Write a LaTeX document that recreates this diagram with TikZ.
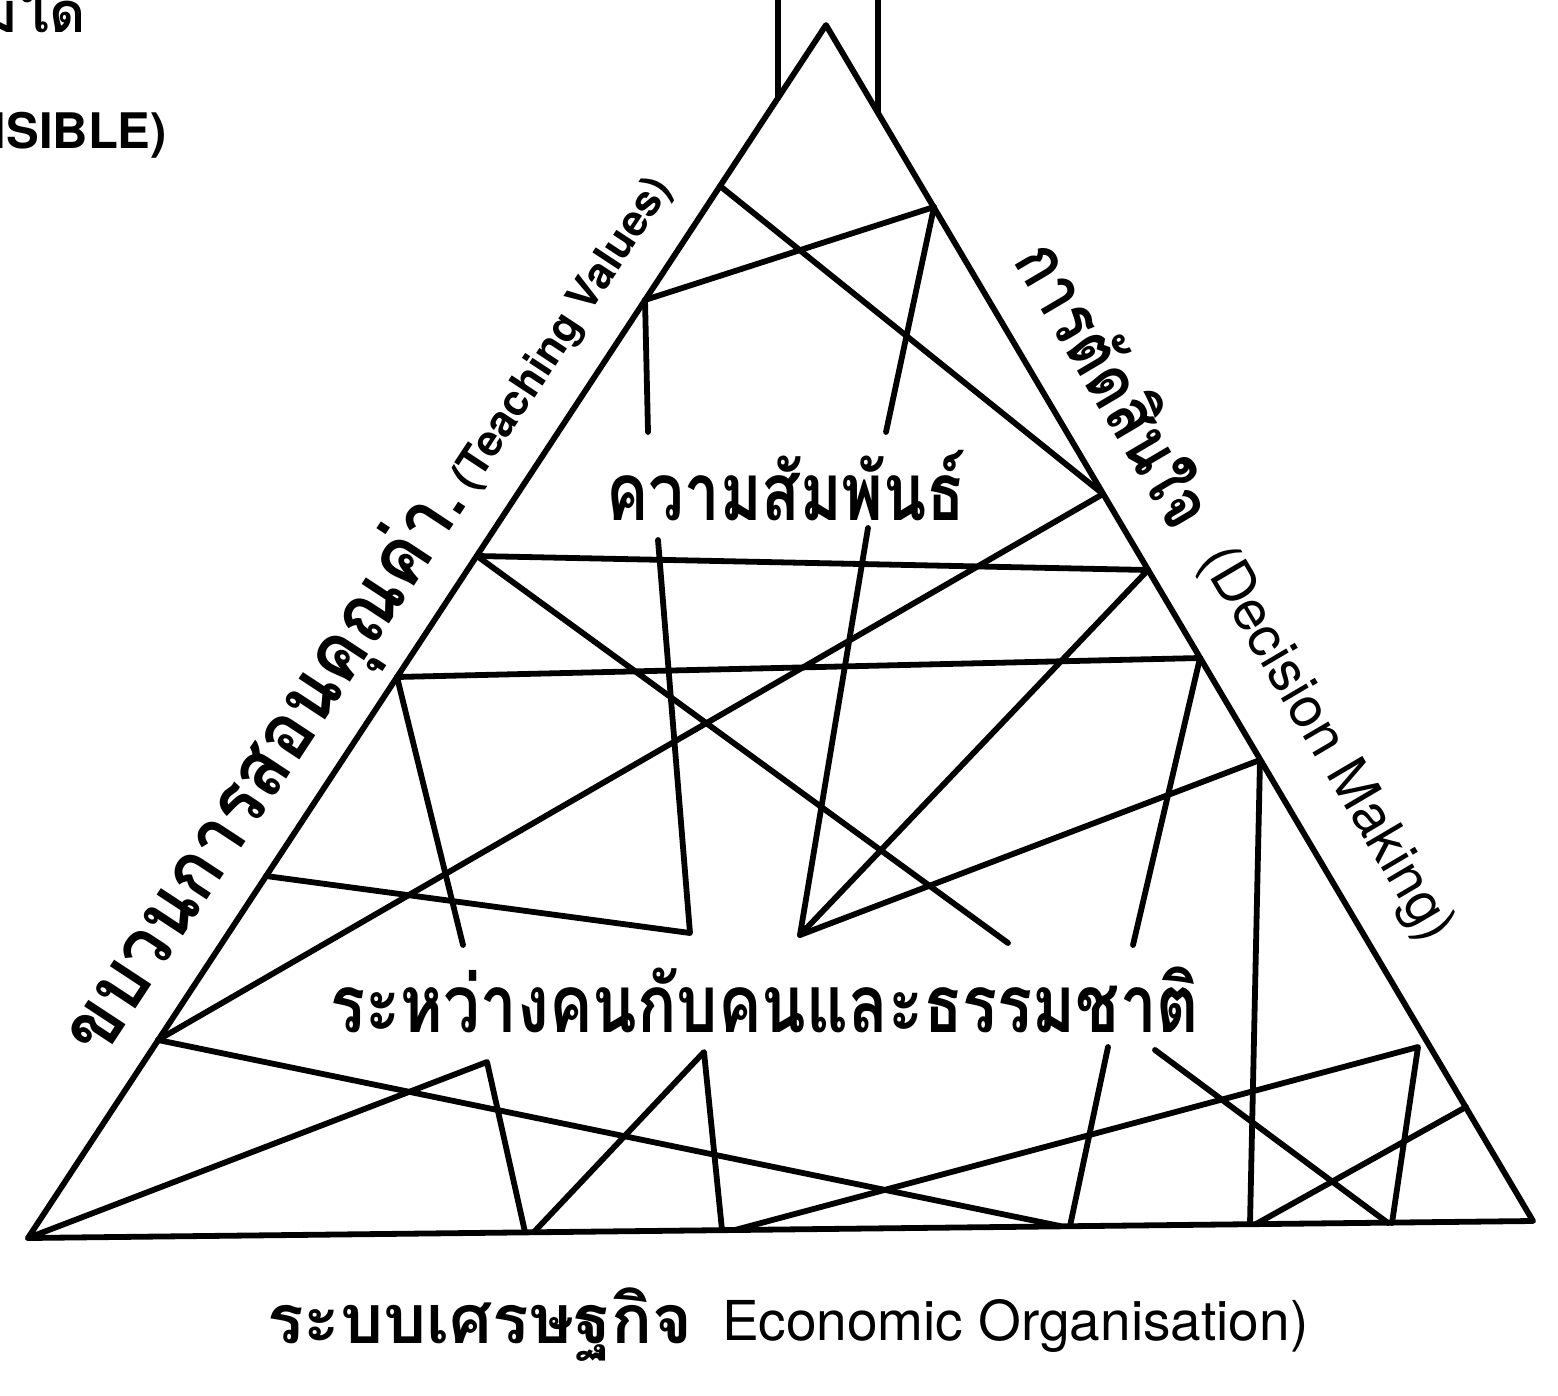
\documentclass[tikz,border=0pt]{standalone}
\usepackage{fontspec}
\newfontfamily\thai[Script=Thai]{Loma}
\newfontfamily\heros{TeX Gyre Heros}
\tikzset{
  ln/.style={line width=2.9pt, line cap=round, line join=round},
  txt/.style={inner sep=0pt, outer sep=0pt},
}
\begin{document}
\begin{tikzpicture}[x=0.5pt,y=-0.5pt]
\clip (0,0) rectangle (1558,1396);
\fill[white] (0,0) rectangle (1558,1396);
% main corners
\coordinate (Ap) at (826,25);
\coordinate (BL) at (28,1238);
\coordinate (BR) at (1533,1221);
% chimney
\coordinate (C1t) at (778,-20);
\coordinate (C1b) at (778,98);
\coordinate (C2t) at (878,-20);
\coordinate (C2b) at (878,112);
% left side points
\coordinate (L1) at (720,186);
\coordinate (L2) at (645,300);
\coordinate (L3) at (477,556);
\coordinate (L4) at (397,677);
\coordinate (L5) at (266,876);
\coordinate (L6) at (158,1040);
% right side points
\coordinate (R1) at (934,207);
\coordinate (R2) at (1103,494);
\coordinate (R3) at (1148,570);
\coordinate (R4) at (1200,658);
\coordinate (R5) at (1260,760);
\coordinate (R6) at (1466,1107);
% base points
\coordinate (B1) at (525,1232);
\coordinate (B2) at (534,1232);
\coordinate (B3) at (722,1230);
\coordinate (B4) at (735,1230);
\coordinate (B5) at (1060,1226);
\coordinate (B6) at (1070,1226);
\coordinate (B7) at (1250,1224);
\coordinate (B8) at (1256,1224);
\coordinate (B9) at (1388,1223);
\coordinate (B10) at (1392,1223);
% interior points
\coordinate (P1) at (648,432);
\coordinate (P2) at (886,432);
\coordinate (P3) at (658,540);
\coordinate (P4) at (690,933);
\coordinate (P5) at (868,528);
\coordinate (P6) at (800,935);
\coordinate (P7) at (1008,943);
\coordinate (P8) at (463,945);
\coordinate (P9) at (1133,945);
\coordinate (Q1) at (487,1062);
\coordinate (Q2) at (704,1052);
\coordinate (Q3) at (1418,1047);
\coordinate (Q4) at (1108,1047);
\coordinate (Q5) at (1155,1050);

% triangle and chimney
\draw[ln] (Ap) -- (BL) -- (BR) -- cycle;
\draw[ln] (C1t) -- (C1b);
\draw[ln] (C2t) -- (C2b);
% web of lines
\draw[ln] (L1) -- (R2);
\draw[ln] (L2) -- (R1);
\draw[ln] (L2) -- (P1);
\draw[ln] (R1) -- (P2);
\draw[ln] (L3) -- (R3);
\draw[ln] (L3) -- (P7);
\draw[ln] (R2) -- (L6);
\draw[ln] (P3) -- (P4) -- (L5);
\draw[ln] (L4) -- (R4);
\draw[ln] (L4) -- (P8);
\draw[ln] (R4) -- (P9);
\draw[ln] (P5) -- (P6) -- (R3);
\draw[ln] (P6) -- (R5);
\draw[ln] (R5) -- (B7);
\draw[ln] (L6) -- (B5);
\draw[ln] (BL) -- (Q1) -- (B1);
\draw[ln] (B2) -- (Q2) -- (B3);
\draw[ln] (B4) -- (Q3) -- (B10);
\draw[ln] (Q4) -- (B6);
\draw[ln] (Q5) -- (B9);
\draw[ln] (B8) -- (R6);

% texts
\node[txt, anchor=base] (t1) at (786,520) {\scalebox{0.79}[1]{\thai\bfseries\fontsize{40}{44}\selectfont ความสัมพันธ์}};
\node[txt, anchor=base] (t2) at (765,1032) {\scalebox{0.815}[1]{\thai\bfseries\fontsize{40}{44}\selectfont ระหว่างคนกับคนและธรรมชาติ}};
\node[txt, anchor=base west] (t3) at (267,1343) {\thai\fontsize{34}{38}\selectfont\bfseries ระบบเศรษฐกิจ};
\node[txt, anchor=base west] (t4) at (722,1340) {\heros\fontsize{27.5}{30}\selectfont Economic Organisation)};
\node[txt, anchor=base west, rotate=56.66] (t5) at (102,1060) {\scalebox{0.9}[1]{\thai\bfseries\fontsize{40}{44}\selectfont ขบวนการสอนคุณค่า.}};
\node[txt, anchor=base west, rotate=56.66] (t5e) at (473,492) {\heros\bfseries\fontsize{21.5}{24}\selectfont (Teaching Values)};
\node[txt, anchor=base west, rotate=-59.47] (t6) at (1012,261) {\scalebox{0.82}[1]{\thai\bfseries\fontsize{36}{40}\selectfont การตัดสินใจ}};
\node[txt, anchor=base west, rotate=-59.47] (t6e) at (1199,559) {\heros\fontsize{28}{32}\selectfont (Decision Making)};
\node[txt, anchor=base east] (t7) at (86,33) {\thai\bfseries\fontsize{28}{32}\selectfont มองเห็นไม่ได้};
\node[txt, anchor=base east] (t8) at (167,149) {\heros\bfseries\fontsize{24.5}{28}\selectfont (INVISIBLE)};
\end{tikzpicture}
\end{document}
